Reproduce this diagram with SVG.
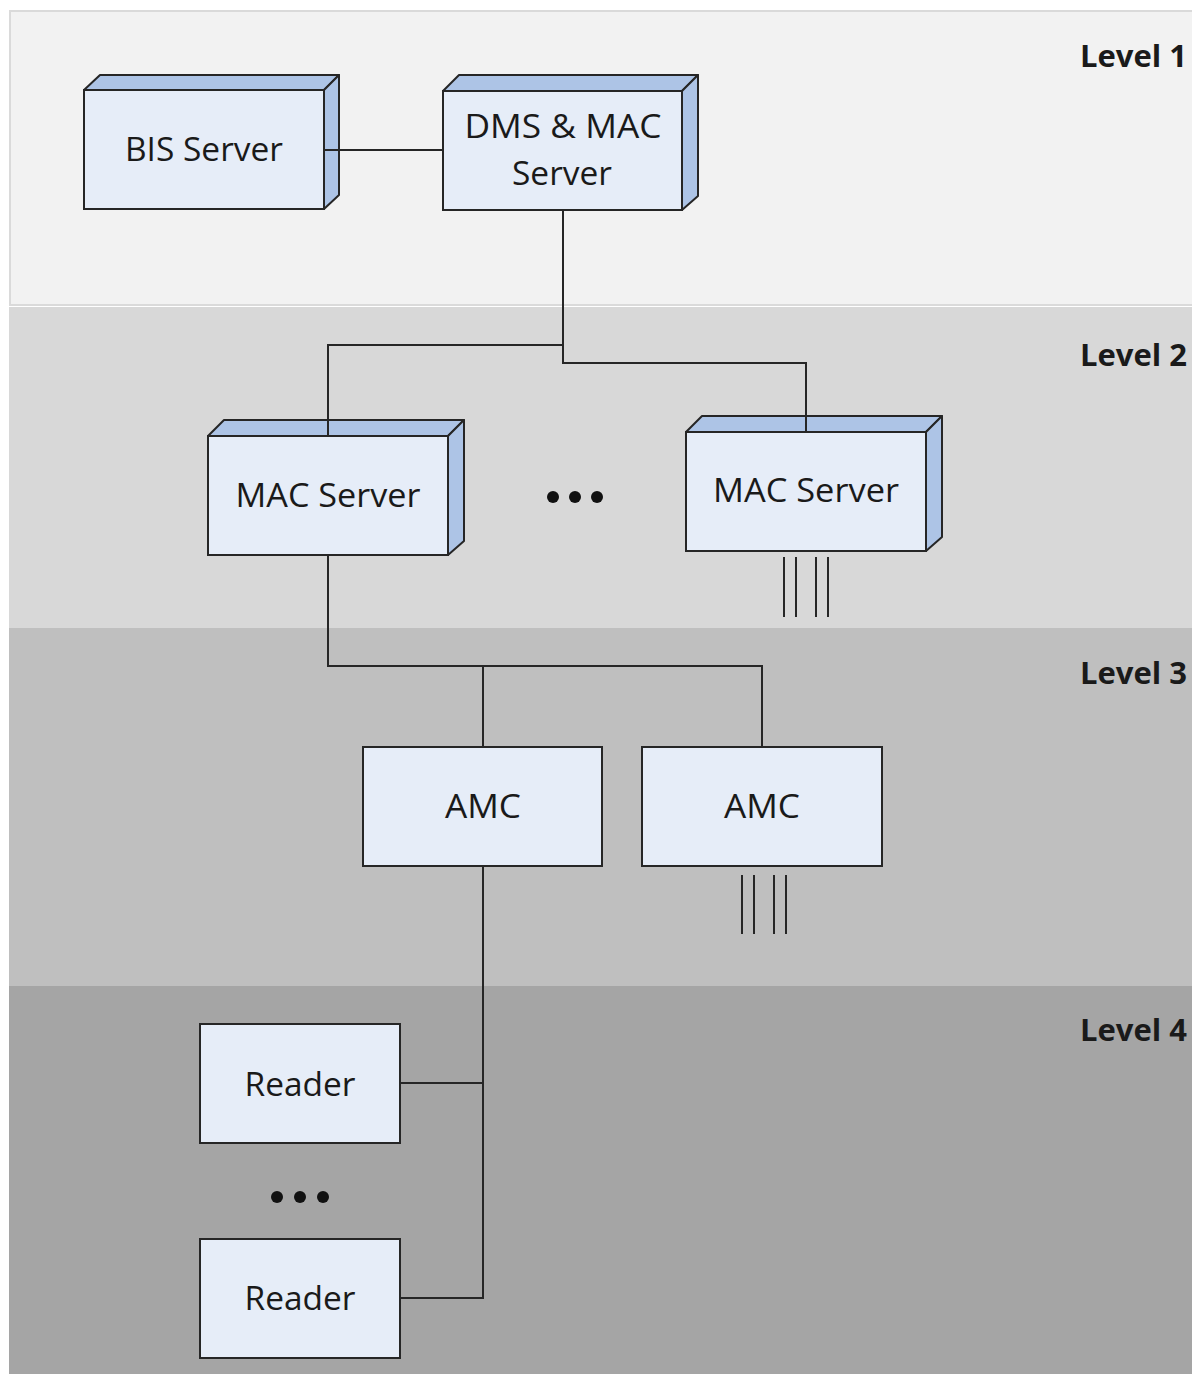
<svg xmlns="http://www.w3.org/2000/svg" width="1192" height="1374" viewBox="0 0 1192 1374">
<style>
.front{fill:#e6edf8;stroke:#262626;stroke-width:2}
.face{fill:#adc4e6;stroke:#262626;stroke-width:2;stroke-linejoin:round}
.lbl{font-family:"Open Sans","Liberation Sans",sans-serif;font-size:33px;fill:#1a1a1a;text-anchor:middle}
.lvl{font-family:"Open Sans","Liberation Sans",sans-serif;font-size:31px;font-weight:bold;fill:#1a1a1a}
.wire{fill:none;stroke:#262626;stroke-width:2}
.tick{stroke:#262626;stroke-width:2}
</style>
<rect width="1192" height="1374" fill="#ffffff"/>
<g id="bands">
<rect x="10" y="11" width="1190" height="294" fill="#f2f2f2" stroke="#dadada" stroke-width="2"/>
<rect x="9" y="307" width="1190" height="321" fill="#d8d8d8"/>
<rect x="9" y="628" width="1190" height="358" fill="#bfbfbf"/>
<rect x="9" y="986" width="1190" height="390" fill="#a5a5a5"/>
<text class="lvl" x="1080" y="67">Level 1</text>
<text class="lvl" x="1080" y="366">Level 2</text>
<text class="lvl" x="1080" y="684">Level 3</text>
<text class="lvl" x="1080" y="1041">Level 4</text>
</g>
<g id="bis-server">
<path class="face" d="M84 90L100 75H339L324 90Z"/>
<path class="face" d="M324 90L339 75V195L324 209Z"/>
<rect class="front" x="84" y="90" width="240" height="119"/>
<text class="lbl" x="204" y="161" textLength="158" lengthAdjust="spacingAndGlyphs">BIS Server</text>
</g>
<g id="dms-mac-server">
<path class="face" d="M443 91L459 75H698L682 91Z"/>
<path class="face" d="M682 91L698 75V196L682 210Z"/>
<rect class="front" x="443" y="91" width="239" height="119"/>
<text class="lbl" x="563" y="138" textLength="197" lengthAdjust="spacingAndGlyphs">DMS &amp; MAC</text>
<text class="lbl" x="562" y="185" textLength="100" lengthAdjust="spacingAndGlyphs">Server</text>
</g>
<g id="mac-server-1">
<path class="face" d="M208 436L224 420H464L448 436Z"/>
<path class="face" d="M448 436L464 420V541L448 555Z"/>
<rect class="front" x="208" y="436" width="240" height="119"/>
<text class="lbl" x="328" y="507" textLength="185" lengthAdjust="spacingAndGlyphs">MAC Server</text>
</g>
<g id="dots-level2">
<circle cx="553" cy="497" r="6" fill="#111"/>
<circle cx="575" cy="497" r="6" fill="#111"/>
<circle cx="597" cy="497" r="6" fill="#111"/>
</g>
<g id="mac-server-2">
<path class="face" d="M686 432L702 416H942L926 432Z"/>
<path class="face" d="M926 432L942 416V537L926 551Z"/>
<rect class="front" x="686" y="432" width="240" height="119"/>
<text class="lbl" x="806" y="502" textLength="186" lengthAdjust="spacingAndGlyphs">MAC Server</text>
</g>
<g id="amc-1">
<rect class="front" x="363" y="747" width="239" height="119"/>
<text class="lbl" x="483" y="818" textLength="76" lengthAdjust="spacingAndGlyphs">AMC</text>
</g>
<g id="amc-2">
<rect class="front" x="642" y="747" width="240" height="119"/>
<text class="lbl" x="762" y="818" textLength="76" lengthAdjust="spacingAndGlyphs">AMC</text>
</g>
<g id="reader-1">
<rect class="front" x="200" y="1024" width="200" height="119"/>
<text class="lbl" x="300" y="1096" textLength="111" lengthAdjust="spacingAndGlyphs">Reader</text>
</g>
<g id="dots-level4">
<circle cx="277" cy="1197" r="6" fill="#111"/>
<circle cx="300" cy="1197" r="6" fill="#111"/>
<circle cx="323" cy="1197" r="6" fill="#111"/>
</g>
<g id="reader-2">
<rect class="front" x="200" y="1239" width="200" height="119"/>
<text class="lbl" x="300" y="1310" textLength="111" lengthAdjust="spacingAndGlyphs">Reader</text>
</g>
<g id="connectors">
<path class="wire" d="M324 150H443"/>
<path class="wire" d="M563 210V345H328V436"/>
<path class="wire" d="M563 345V363H806V432"/>
<path class="wire" d="M328 555V666H762V747"/>
<path class="wire" d="M483 666V747"/>
<path class="wire" d="M483 866V1298H400"/>
<path class="wire" d="M483 1083H400"/>
<g id="ticks-mac2">
<line class="tick" x1="784" y1="557" x2="784" y2="617"/>
<line class="tick" x1="796" y1="557" x2="796" y2="617"/>
<line class="tick" x1="816" y1="557" x2="816" y2="617"/>
<line class="tick" x1="828" y1="557" x2="828" y2="617"/>
</g>
<g id="ticks-amc2">
<line class="tick" x1="742" y1="875" x2="742" y2="934"/>
<line class="tick" x1="754" y1="875" x2="754" y2="934"/>
<line class="tick" x1="774" y1="875" x2="774" y2="934"/>
<line class="tick" x1="786" y1="875" x2="786" y2="934"/>
</g>
</g>
</svg>
